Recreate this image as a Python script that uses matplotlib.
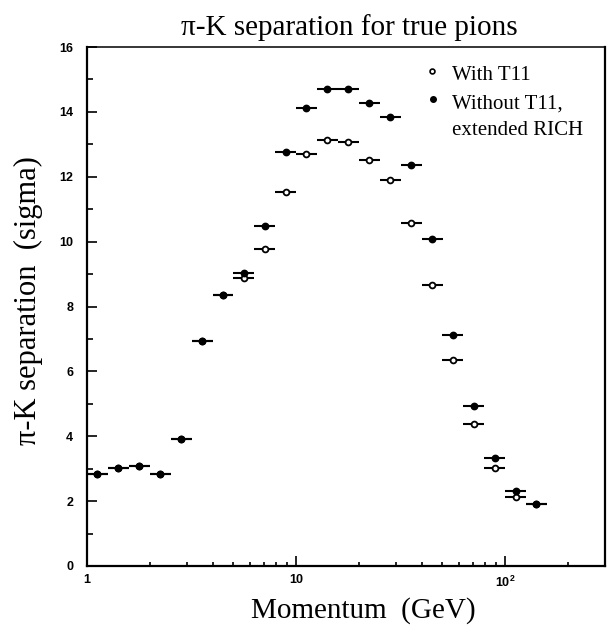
import numpy as np
import matplotlib
matplotlib.use("Agg")
import matplotlib.pyplot as plt
from matplotlib.ticker import FixedLocator, FixedFormatter, LogLocator, NullFormatter, MultipleLocator

plt.rcParams['mathtext.fontset'] = 'custom'
plt.rcParams['mathtext.bf'] = 'Liberation Sans:bold'
plt.rcParams['mathtext.rm'] = 'Liberation Sans:bold'

# bin centres in momentum (GeV), 0.1 decade wide bins
momentum = [1.12, 1.41, 1.78, 2.24, 2.82, 3.55, 4.47, 5.62, 7.08, 8.91, 11.2,
            14.1, 17.8, 22.4, 28.2, 35.5, 44.7, 56.2, 70.8, 89.1, 112, 141]
sep_with_t11 = [2.83, 3.02, 3.09, 2.85, 3.93, 6.94, 8.35, 8.87, 9.77, 11.54, 12.69,
                13.13, 13.08, 12.51, 11.89, 10.58, 8.65, 6.36, 4.38, 3.02, 2.13, 1.90]
sep_without_t11 = [2.83, 3.02, 3.09, 2.85, 3.93, 6.94, 8.35, 9.03, 10.47, 12.76, 14.12,
                   14.69, 14.71, 14.28, 13.85, 12.35, 10.09, 7.12, 4.92, 3.32, 2.31, 1.90]
xtick_vals = [1, 10, 100]
xtick_labels = ['1', '10', r'$\mathbf{10^{2}}$']

serif = 'Liberation Serif'
sans = 'Liberation Sans'

p = np.array(momentum)
half = 10 ** 0.05
xerr = [p - p / half, p * half - p]

fig = plt.figure(figsize=(6.10, 6.33), dpi=100)
ax = fig.add_axes([87 / 610, 1 - 566 / 633, 518 / 610, 519 / 633])

ax.errorbar(p, sep_with_t11, xerr=xerr, fmt='o', color='black', mfc='white',
            mec='black', ms=4.2, mew=1.3, elinewidth=1.5, capsize=0, zorder=3)
ax.errorbar(p, sep_without_t11, xerr=xerr, fmt='o', color='black', mfc='black',
            mec='black', ms=4.6, mew=1.0, elinewidth=1.5, capsize=0, zorder=4)

ax.set_xscale('log')
ax.set_xlim(1, 300)
ax.set_ylim(0, 16)

ax.xaxis.set_major_locator(FixedLocator(xtick_vals))
ax.xaxis.set_major_formatter(FixedFormatter(xtick_labels))
ax.xaxis.set_minor_locator(LogLocator(base=10, subs=np.arange(2, 10)))
ax.xaxis.set_minor_formatter(NullFormatter())
ax.yaxis.set_major_locator(MultipleLocator(2))
ax.yaxis.set_minor_locator(MultipleLocator(1))

ax.tick_params(which='both', direction='in', width=1.2, top=False, right=False)
ax.tick_params(axis='y', which='major', length=7, pad=10)
ax.tick_params(axis='y', which='minor', length=4)
ax.tick_params(axis='x', which='major', length=7, pad=6)
ax.tick_params(axis='x', which='minor', length=3)
for lab in ax.get_xticklabels() + ax.get_yticklabels():
    lab.set_fontfamily(sans)
    lab.set_fontweight('bold')
    lab.set_fontsize(9)

for side in ['left', 'bottom', 'right']:
    ax.spines[side].set_linewidth(1.6)
ax.spines['top'].set_linewidth(1.1)

# legend drawn by hand
ax.plot([0.666], [0.954], 'o', color='black', mfc='white', ms=3.5, mew=1.2,
        transform=ax.transAxes, clip_on=False)
ax.plot([0.668], [0.900], 'o', color='black', ms=4.0, transform=ax.transAxes, clip_on=False)
ax.text(0.705, 0.936, 'With T11', family=serif, fontsize=15, va='baseline',
        transform=ax.transAxes)
ax.text(0.705, 0.882, 'Without T11,', family=serif, fontsize=15, va='baseline',
        transform=ax.transAxes)
ax.text(0.705, 0.830, 'extended RICH', family=serif, fontsize=15, va='baseline',
        transform=ax.transAxes)

fig.text(349 / 610, 1 - 35 / 633, 'π-K separation for true pions', family=serif,
         fontsize=21, ha='center', va='baseline')
fig.text(363 / 610, 1 - 618 / 633, 'Momentum  (GeV)', family=serif,
         fontsize=21, ha='center', va='baseline')
fig.text(28 / 610, 1 - 301 / 633, 'π-K separation  (sigma)', family=serif,
         fontsize=22, ha='center', va='center', rotation=90)

fig.savefig('out.png', dpi=100)
